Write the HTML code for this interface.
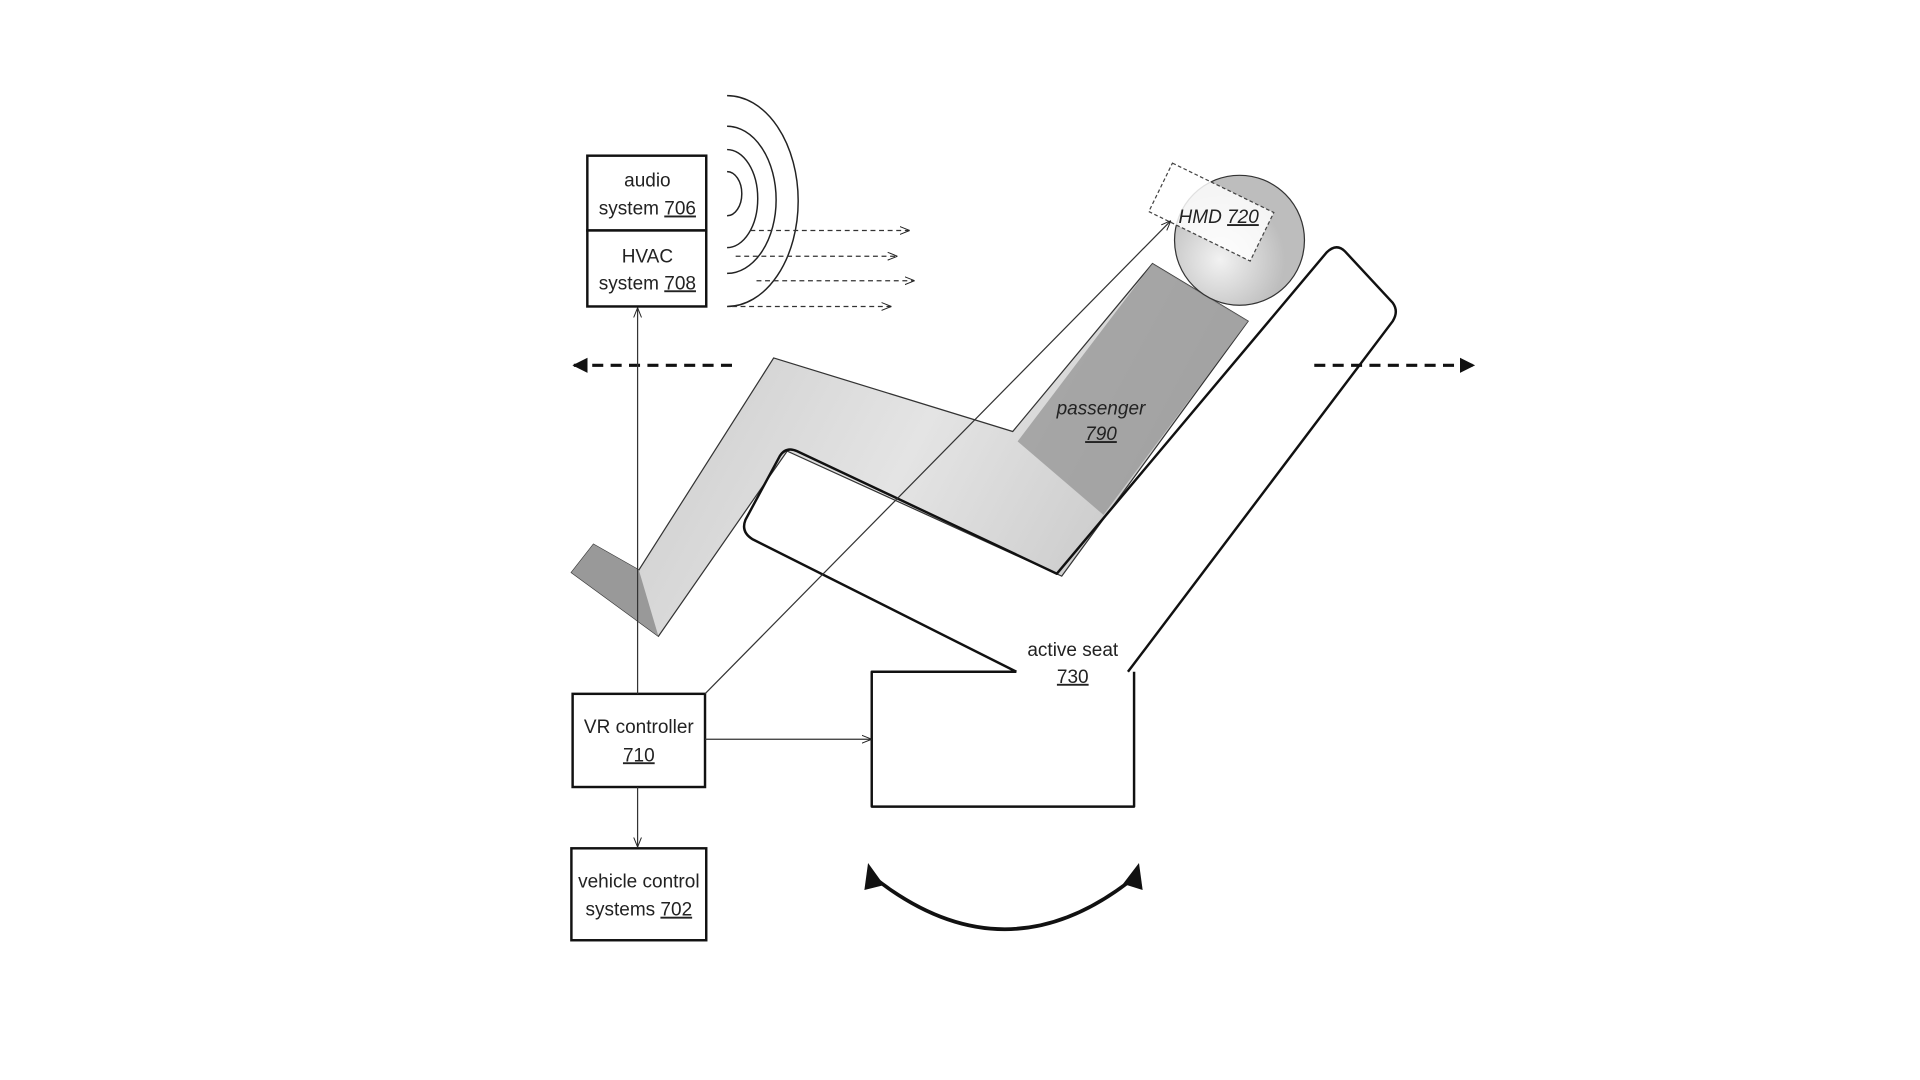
<!DOCTYPE html>
<html><head><meta charset="utf-8"><style>html,body{margin:0;padding:0;background:#fff}svg{display:block}text{font-family:"Liberation Sans",sans-serif;font-size:15.5px;fill:#222}</style></head>
<body>
<svg width="1920" height="1080" viewBox="0 0 1566 881" xmlns="http://www.w3.org/2000/svg">
<defs>
<marker id="a" viewBox="0 0 10 10" refX="10" refY="5" markerWidth="8" markerHeight="8" orient="auto-start-reverse"><path d="M0,1 L10,5 L0,9" fill="none" stroke="#222" stroke-width="1"/></marker>
<marker id="b" viewBox="0 0 10 10" refX="9" refY="5" markerWidth="5" markerHeight="5" orient="auto-start-reverse"><path d="M0,0 L10,5 L0,10 z" fill="#111"/></marker>
<linearGradient id="g" x1="0" y1="0" x2="1" y2="0.3"><stop offset="0" stop-color="#c4c4c4"/><stop offset="0.6" stop-color="#e4e4e4"/><stop offset="1" stop-color="#c8c8c8"/></linearGradient>
<radialGradient id="h" cx="0.35" cy="0.65"><stop offset="0" stop-color="#f2f2f2"/><stop offset="1" stop-color="#bdbdbd"/></radialGradient>
</defs>
<rect width="1566" height="881" fill="#fff"/>
<g fill="none" stroke="#222" stroke-width="1.2">
<path d="M593,140 A12,18 0 0 1 593,176"/>
<path d="M593,122 A25,40 0 0 1 593,202"/>
<path d="M593,103 A40,60 0 0 1 593,223"/>
<path d="M593,78 A58,86 0 0 1 593,250"/>
</g>
<g stroke="#333" stroke-width="1" stroke-dasharray="4,3" marker-end="url(#a)">
<line x1="612" y1="188" x2="742" y2="188"/><line x1="600" y1="209" x2="732" y2="209"/><line x1="617" y1="229" x2="746" y2="229"/><line x1="597" y1="250" x2="727" y2="250"/>
</g>
<g stroke="#111" stroke-width="2.5" stroke-dasharray="9,6" marker-end="url(#b)">
<line x1="597" y1="298" x2="468" y2="298"/><line x1="1072" y1="298" x2="1202" y2="298"/>
</g>
<path d="M466,467 L484,444 L521,465 L631,292 L826,352 L940,215 L1018,262 L866,470 L642,368 L537,519 Z" fill="url(#g)" stroke="#333" stroke-width="1"/>
<path d="M466,467 L484,444 L521,465 L537,519 Z" fill="#999"/>
<path d="M940,215 L1018,262 L900,420 L830,360 Z" fill="#999" opacity="0.8"/>
<circle cx="1011" cy="196" r="53" fill="url(#h)" stroke="#333" stroke-width="1"/>
<g transform="translate(988,173) rotate(26)"><rect x="-46" y="-22" width="92" height="44" fill="#fff" fill-opacity="0.85" stroke="#444" stroke-dasharray="3,2"/></g>
<text x="994" y="182" text-anchor="middle" font-style="italic">HMD <tspan text-decoration="underline">720</tspan></text>
<text x="898" y="338" text-anchor="middle" font-style="italic">passenger</text>
<text x="898" y="359" text-anchor="middle" font-style="italic" text-decoration="underline">790</text>
<g fill="none" stroke="#111" stroke-width="2" stroke-linejoin="round">
<path d="M829,548 L614,440 Q604,434 608,424 L636,372 Q641,364 650,368 L862,468 L1082,206 Q1090,198 1097,205 L1136,247 Q1141,254 1136,262 L920,548"/>
<path d="M829,548 L711,548 L711,658 L925,658 L925,548"/>
</g>
<text x="875" y="535" text-anchor="middle">active seat</text>
<text x="875" y="557" text-anchor="middle" text-decoration="underline">730</text>
<g fill="#fff" stroke="#111" stroke-width="2">
<rect x="479" y="127" width="97" height="61"/><rect x="479" y="188" width="97" height="62"/>
<rect x="467" y="566" width="108" height="76"/><rect x="466" y="692" width="110" height="75"/>
</g>
<text x="528" y="152" text-anchor="middle">audio</text>
<text x="528" y="175" text-anchor="middle">system  <tspan text-decoration="underline">706</tspan></text>
<text x="528" y="214" text-anchor="middle">HVAC</text>
<text x="528" y="236" text-anchor="middle">system  <tspan text-decoration="underline">708</tspan></text>
<text x="521" y="598" text-anchor="middle">VR controller</text>
<text x="521" y="621" text-anchor="middle" text-decoration="underline">710</text>
<text x="521" y="724" text-anchor="middle">vehicle control</text>
<text x="521" y="747" text-anchor="middle">systems <tspan text-decoration="underline">702</tspan></text>
<g stroke="#333" stroke-width="1" fill="none" marker-end="url(#a)">
<line x1="520" y1="566" x2="520" y2="251"/>
<line x1="520" y1="642" x2="520" y2="691"/>
<line x1="575" y1="566" x2="955" y2="180"/>
<line x1="575" y1="603" x2="711" y2="603"/>
</g>
<path d="M713,716 Q820,800 925,716" fill="none" stroke="#111" stroke-width="3"/>
<path d="M708,704 L721,722 L705,726 Z" fill="#111"/>
<path d="M929,704 L932,726 L916,721 Z" fill="#111"/>
</svg>
</body></html>
